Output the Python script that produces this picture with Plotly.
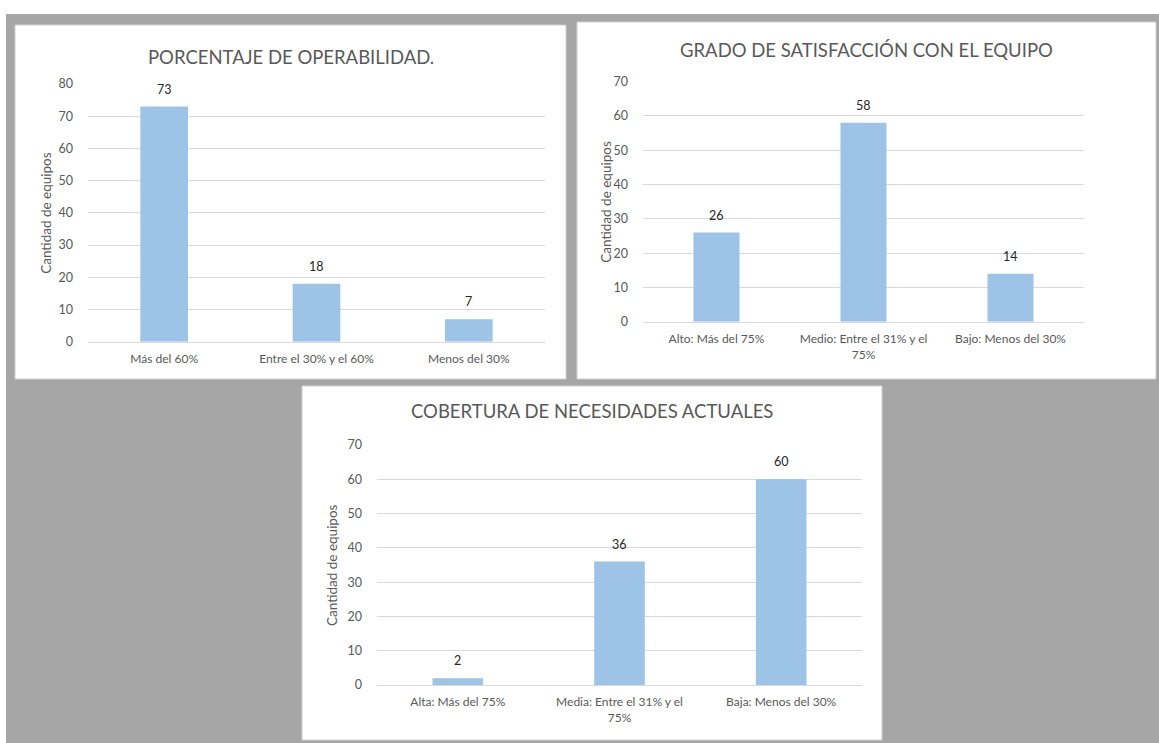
import plotly.graph_objects as go

# ---- data -------------------------------------------------------------
operabilidad_cats = ["Más del 60%", "Entre el 30% y el 60%", "Menos del 30%"]
operabilidad_vals = [73, 18, 7]

satisfaccion_cats = ["Alto: Más del 75%", "Medio: Entre el 31% y el<br>75%", "Bajo: Menos del 30%"]
satisfaccion_vals = [26, 58, 14]

cobertura_cats = ["Alta: Más del 75%", "Media: Entre el 31% y el<br>75%", "Baja: Menos del 30%"]
cobertura_vals = [2, 36, 60]

titles = ["PORCENTAJE DE OPERABILIDAD.", "GRADO DE SATISFACCIÓN CON EL EQUIPO",
          "COBERTURA DE NECESIDADES ACTUALES"]
y_title = "Cantidad de equipos"
y_max = [80, 70, 70]

# ---- page geometry (pixels) ---------------------------------------------
W, H = 1159, 743
FONT = "Lato, 'Open Sans', sans-serif"
BAR = "#9dc3e6"
GRID = "#d9d9d9"
TXT = "#595959"
BG = "#a6a6a6"


def fx(px):
    return px / W


def fy(py):
    return 1 - py / H


# panel box (x0, y0, x1, y1), plot area (x0, x1, y_top, y_zero), title y, y-title x
panels = [
    dict(box=(15, 25, 566, 379), plot=(88, 545, 84, 341.7), ty=57, ytx=46),
    dict(box=(577, 22, 1156, 379), plot=(643, 1084, 81.7, 321.7), ty=50, ytx=606),
    dict(box=(302, 386, 882, 740), plot=(377, 862, 445, 685), ty=411, ytx=332),
]
series = [
    (operabilidad_cats, operabilidad_vals),
    (satisfaccion_cats, satisfaccion_vals),
    (cobertura_cats, cobertura_vals),
]

fig = go.Figure()
shapes = [dict(type="rect", xref="paper", yref="paper", x0=fx(6), x1=1, y0=0, y1=fy(14),
               fillcolor=BG, line=dict(width=0), layer="below")]
annotations = []

for i, (p, (cats, vals)) in enumerate(zip(panels, series)):
    n = "" if i == 0 else str(i + 1)
    bx0, by0, bx1, by1 = p["box"]
    shapes.append(dict(type="rect", xref="paper", yref="paper",
                       x0=fx(bx0), x1=fx(bx1), y0=fy(by1), y1=fy(by0),
                       fillcolor="white", line=dict(color="#d0d0d0", width=1), layer="below"))
    px0, px1, ptop, pzero = p["plot"]
    xs = list(range(len(cats)))
    fig.add_trace(go.Bar(x=xs, y=vals, width=0.313, marker=dict(color=BAR, line=dict(width=0)),
                         xaxis="x" + n, yaxis="y" + n, showlegend=False, hoverinfo="skip"))
    fig.update_layout(**{
        "xaxis" + n: dict(domain=[fx(px0), fx(px1)], anchor="y" + n, range=[-0.5, len(cats) - 0.5],
                          tickmode="array", tickvals=xs, ticktext=cats, showgrid=False,
                          showline=True, linecolor=GRID, linewidth=1, ticks="",
                          ticklabelstandoff=6,
                          tickfont=dict(family=FONT, size=12, color=TXT), zeroline=False,
                          automargin=False, fixedrange=True),
        "yaxis" + n: dict(domain=[fy(pzero), fy(ptop)], anchor="x" + n, range=[0, y_max[i]],
                          dtick=10, showgrid=True, gridcolor=GRID, gridwidth=1, zeroline=False,
                          showline=False, ticks="", ticklabelstandoff=14,
                          tickfont=dict(family=FONT, size=12.5, color=TXT),
                          automargin=False, fixedrange=True),
    })
    # value labels above bars
    for xv, v in zip(xs, vals):
        annotations.append(dict(x=xv, y=v, xref="x" + n, yref="y" + n, text=str(v),
                                showarrow=False, yanchor="bottom", yshift=8,
                                font=dict(family=FONT, size=12.5, color="#262626")))
    # chart title
    annotations.append(dict(x=fx((bx0 + bx1) / 2), y=fy(p["ty"]), xref="paper", yref="paper",
                            text=titles[i], showarrow=False, xanchor="center", yanchor="middle",
                            font=dict(family=FONT, size=18.5, color=TXT)))
    # value axis title
    annotations.append(dict(x=fx(p["ytx"]), y=fy((ptop + pzero) / 2), xref="paper", yref="paper",
                            text=y_title, textangle=-90, showarrow=False,
                            xanchor="center", yanchor="middle",
                            font=dict(family=FONT, size=13.5, color=TXT)))

fig.update_layout(width=W, height=H, margin=dict(l=0, r=0, t=0, b=0, autoexpand=False),
                  paper_bgcolor="white", plot_bgcolor="rgba(0,0,0,0)",
                  shapes=shapes, annotations=annotations, bargap=0.2)

fig.write_html("out.html", config=dict(displayModeBar=False),
               post_script="document.body.style.margin='0';document.body.style.overflow='hidden';")
